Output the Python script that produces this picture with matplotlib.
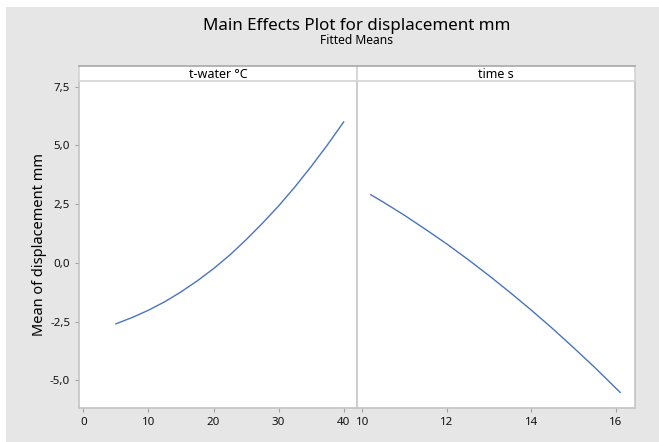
import matplotlib
matplotlib.use('Agg')
import matplotlib.pyplot as plt
from matplotlib.patches import Rectangle
from matplotlib.ticker import FuncFormatter

# values
water_temp = [5, 7.5, 10, 12.5, 15, 17.5, 20, 22.5, 25, 27.5, 30, 32.5, 35, 37.5, 40]
water_mean = [-2.60, -2.33, -2.02, -1.66, -1.24, -0.77, -0.25, 0.33, 0.98, 1.68,
              2.42, 3.23, 4.10, 5.02, 6.00]
time_s = [10.2, 10.5, 11, 11.5, 12, 12.5, 13, 13.5, 14, 14.5, 15, 15.5, 16.1]
time_mean = [2.90, 2.58, 2.02, 1.42, 0.80, 0.14, -0.55, -1.27, -2.02, -2.80,
             -3.62, -4.46, -5.52]
panel_titles = ['t-water °C', 'time s']
y_ticks = [-5.0, -2.5, 0.0, 2.5, 5.0, 7.5]
water_ticks = [0, 10, 20, 30, 40]
time_ticks = [10, 12, 14, 16]

W, H = 659, 442
plt.rcParams['font.family'] = ['Noto Sans', 'DejaVu Sans']
fig = plt.figure(figsize=(W / 100, H / 100), dpi=100)
fig.patch.set_facecolor('white')
fig.patches.append(Rectangle((6 / W, 0), 1 - 6 / W, 1 - 7 / H, transform=fig.transFigure,
                             facecolor='#e6e6e6', edgecolor='none', zorder=-10))

def px(x0, y0, x1, y1):
    return [x0 / W, 1 - y1 / H, (x1 - x0) / W, (y1 - y0) / H]

line_col = '#4a74bf'
frame_col = '#c4c4c4'
comma = FuncFormatter(lambda v, p: f'{v:.1f}'.replace('.', ','))

ax1 = fig.add_axes(px(79.3, 80.7, 356.7, 408.3))
ax2 = fig.add_axes(px(356.7, 80.7, 635, 408.3), sharey=ax1)

ax1.plot(water_temp, water_mean, color=line_col, lw=1.0)
ax2.plot(time_s, time_mean, color=line_col, lw=1.0)

ax1.set_xlim(-0.62, 42.0)
ax2.set_xlim(9.867, 16.45)
ax1.set_ylim(-6.196, 7.755)
ax1.set_yticks(y_ticks)
ax1.yaxis.set_major_formatter(comma)
ax1.set_xticks(water_ticks)
ax2.set_xticks(time_ticks)

for ax in (ax1, ax2):
    ax.set_facecolor('white')
    for s in ax.spines.values():
        s.set_color(frame_col)
        s.set_linewidth(1.2)
    ax.spines['top'].set_visible(False)
    ax.tick_params(axis='both', colors='#a0a0a0', labelcolor='#111111',
                   labelsize=8.3, length=3, width=0.8)
ax1.spines['right'].set_visible(False)
ax2.tick_params(axis='y', left=False, labelleft=False)

ax1.set_ylabel('Mean of displacement mm', fontsize=10.5, color='#000000', labelpad=2)

# strip headers
for (x0, x1), label in zip([(79.3, 356.7), (356.7, 635)], panel_titles):
    sa = fig.add_axes(px(x0, 66, x1, 80.7))
    sa.set_facecolor('white')
    sa.set_xticks([])
    sa.set_yticks([])
    for s in sa.spines.values():
        s.set_color('#d4d4d4')
        s.set_linewidth(1.2)
    sa.spines['top'].set_color('#a8a8a8')
    sa.text(0.5, 0.45, label, ha='center', va='center', fontsize=9, color='#000000',
            transform=sa.transAxes)

fig.text(357 / W, 1 - 26 / H, 'Main Effects Plot for displacement mm', ha='center', va='center',
         fontsize=12.2, color='#000000')
fig.text(357 / W, 1 - 41 / H, 'Fitted Means', ha='center', va='center',
         fontsize=8.7, color='#000000')

fig.savefig('out.png', dpi=100)
